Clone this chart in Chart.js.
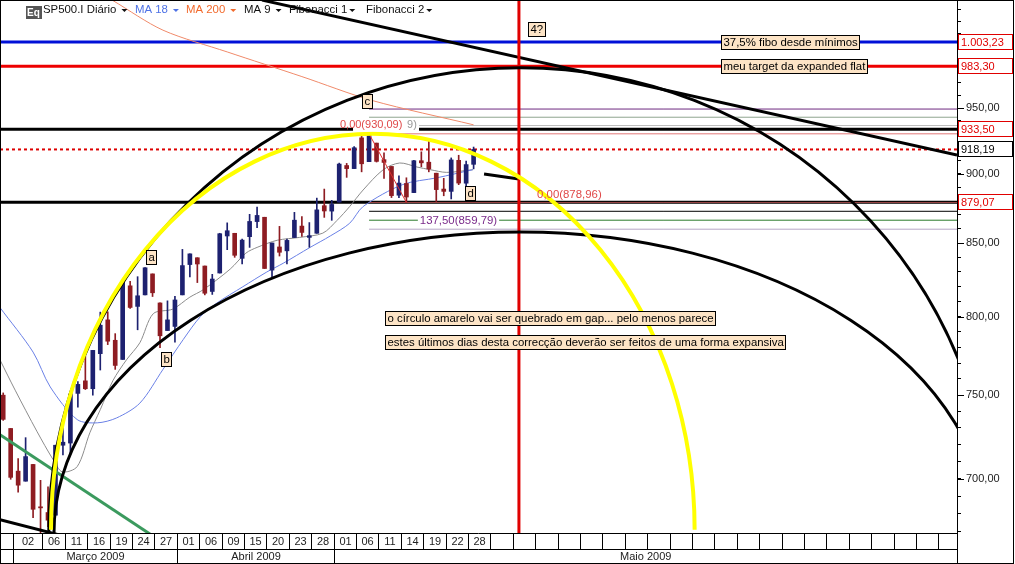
<!DOCTYPE html>
<html>
<head>
<meta charset="utf-8">
<script src="https://cdn.jsdelivr.net/npm/chart.js@4.4.1/dist/chart.umd.min.js"></script>
<style>
  html, body { margin: 0; padding: 0; background: #fff; }
  #wrap { width: 1015px; height: 564px; }
</style>
</head>
<body>
<div id="wrap"><canvas id="chart" width="1015" height="564"></canvas></div>
<script>
const FONT = '"Liberation Sans", Arial, sans-serif';

// velas diárias, índice 0 = 27/02/2009
const open  = [749.9,729.6,704.4,698.6,708.3,684.0,680.8,679.3,719.6,720.9,751.0,758.8,753.9,776.0,797.9,784.6,772.3,820.6,806.8,814.5,828.7,809.1,790.9,793.6,814.5,835.1,839.8,834.1,816.8,829.3,855.0,856.9,839.4,854.5,865.2,868.3,831.3,847.3,844.6,853.9,862.0,854.0,856.9,876.6,872.7,879.2,906.1,903.8,927.0,909.0,923.0,910.5,905.4,884.2,892.8,886.1,909.7,908.6,900.4,888.7,887.0,910.0,893.0,907.0];
const high  = [751.3,729.6,711.7,724.1,708.3,699.1,695.3,719.6,731.9,752.6,758.3,774.5,778.1,803.0,803.2,788.9,823.4,823.7,826.8,833.0,828.7,809.1,810.5,813.6,845.6,842.5,839.8,834.1,828.4,856.9,864.3,856.9,852.9,870.4,875.6,868.3,850.1,861.8,852.9,871.8,868.8,864.5,882.1,888.7,880.5,907.9,907.7,920.3,929.6,930.1,923.0,915.6,905.4,898.4,897.0,910.0,916.4,924.6,900.4,896.6,911.8,913.8,909.5,920.0];
const low   = [734.5,699.7,692.3,698.6,677.9,666.8,672.9,679.3,713.9,714.8,742.5,753.4,749.9,765.6,781.8,766.0,772.3,805.5,791.4,814.5,813.4,779.8,790.9,783.3,814.5,826.7,822.8,814.5,814.8,829.3,845.4,840.1,835.6,847.0,860.9,832.4,826.8,841.0,835.6,853.9,854.7,847.1,856.9,868.2,866.1,879.2,897.3,903.8,901.4,909.0,908.7,896.5,882.5,882.5,879.0,886.1,905.2,901.4,879.6,883.8,881.5,891.9,887.6,903.6];
const close = [735.1,700.8,696.3,712.9,682.6,683.4,676.5,719.6,721.4,750.7,756.6,753.9,778.1,794.4,784.0,768.5,822.9,806.1,813.9,832.9,815.9,787.5,797.9,811.1,834.4,842.5,835.5,815.6,825.2,856.6,858.7,841.5,852.1,865.3,869.6,832.4,850.1,843.6,851.9,866.2,857.5,855.2,873.6,872.8,877.5,907.2,903.8,919.5,907.4,929.2,909.2,908.4,883.9,893.1,882.9,909.7,908.1,903.5,888.3,887.0,910.3,893.1,906.8,918.19];

// médias móveis: [índice, valor]
const ma9  = [[-0.43,772],[1.6,753],[4.5,728],[6.7,711],[7.9,704],[9.9,707],[11.6,727],[13.0,741],[14.7,759],[16.5,772],[18.3,783],[20.1,802],[22.7,805],[25.0,813],[26.8,818],[30.4,832],[32.5,843],[34.0,847],[36.7,852],[39.7,854],[42.8,857],[44.7,866],[46.4,876],[48.2,888],[50.9,903],[53.1,908],[55.4,905],[57.2,903],[59.4,901],[62.9,903]];
const ma18 = [[-0.43,806],[4.0,777],[6.3,755],[9.9,735],[12.6,733],[15.2,736],[18.3,745],[21.4,766],[24.1,785],[26.4,800],[28.6,809],[32.1,820],[35.3,830],[37.5,836],[41.1,847],[43.8,855],[46.4,864],[48.2,876],[53.5,892],[58.1,897],[62.9,903]];
const ma200 = [[14.7,1038],[21.4,1013],[30,995],[40,975],[49.4,956],[63,937]];

// níveis horizontais
const blueLevel = 1003.23;
const redLevel = 983.30;
const blackLevels = [933.50, 879.07];
const lastPrice = 918.19;
const fib1 = [930.09, 936.48, 942.87, 949.26];
const fib2 = [878.96, 872.57, 866.18, 859.79];
const fibStart = 49;
const fibSwing = [[49, 930.09], [54, 878.96]];

// linhas de tendência: [índice, valor] -> [índice, valor]
const trendTop   = [[34.66, 1038.4], [127.74, 914.0]];
const trendShort = [[64.4, 899.8], [69.07, 896.1]];
const trendGreen = [[-0.43, 725.9], [21.8, 663.0]];
const trendLow   = [[-0.43, 676.8], [8.95, 666.8]];
const markerIdx = 69.07;

// arcos: [índice centro, valor centro, raio em índices, valor do topo]
const yellowArc = [49.5, 671.2, 43.1, 930.09];
const outerArc  = [69.3, 669.4, 63.2, 982.2];
const innerArc  = [69.3, 669.4, 62.5, 857.8];

// eixo das datas
const dayTicks  = [1,5,8,11,14,17,20,23,26,29,32,35,38,41,44,47,50,53,56,59,62];
const dayLabels = ['02','06','11','16','19','24','27','01','06','09','15','20','23','28','01','06','11','14','19','22','28'];
const futureTicks = [65,68,71,74,77,80,83,86,89,92,95,98,101,104,107,110,113,116,119,122,125];
const monthLabels = ['Março 2009', 'Abril 2009', 'Maio 2009'];
const monthStarts = [1, 23, 44];
const yMajor = [700, 750, 800, 850, 900, 950];

const xMin = -0.43, xMax = 127.74, yMin = 669.4, yMax = 1038.5;
const UP = '#1d2170', DOWN = '#8e1c22';

const candleColor = c => close[c.dataIndex] >= open[c.dataIndex] ? UP : DOWN;
const pts = arr => arr.map(p => ({ x: p[0], y: p[1] }));

function hline(v, from, color, width, dash) {
  return { type: 'line', data: [{ x: from, y: v }, { x: xMax, y: v }], borderColor: color,
    borderWidth: width, borderDash: dash || [], pointRadius: 0, order: 8 };
}
function seg(p, color, width, order) {
  return { type: 'line', data: pts(p), borderColor: color, borderWidth: width, pointRadius: 0, order: order };
}

const fib1Colors = ['#e27878', '#bdbdbd', '#8fa58f', '#6e2a80'];
const fib2Colors = ['#a04848', '#000000', '#2a7a2a', '#b6a6c6'];

const datasets = [];
fib1.forEach((v, i) => datasets.push(hline(v, fibStart, fib1Colors[i], 1)));
fib2.forEach((v, i) => datasets.push(hline(v, fibStart, fib2Colors[i], 1)));
datasets.push(hline(blueLevel, xMin, '#0010d8', 3));
datasets.push(hline(redLevel, xMin, '#ee0000', 3));
blackLevels.forEach(v => datasets.push(hline(v, xMin, '#000', 3)));
datasets.push(hline(lastPrice, xMin, '#dd0000', 2, [3, 3]));

datasets.push({ type: 'line', data: pts(ma200), borderColor: '#f08a6a', borderWidth: 1, pointRadius: 0, tension: 0.3, order: 7 });
datasets.push({ type: 'line', data: pts(ma18), borderColor: '#6a80e6', borderWidth: 1, pointRadius: 0, tension: 0.3, order: 7 });
datasets.push({ type: 'line', data: pts(ma9), borderColor: '#8c8c8c', borderWidth: 1, pointRadius: 0, tension: 0.3, order: 7 });

datasets.push({ type: 'bar', data: open.map((o, i) => ({ x: i, y: [low[i], high[i]] })),
  backgroundColor: candleColor, barThickness: 1, grouped: false, order: 5 });
datasets.push({ type: 'bar', data: open.map((o, i) => ({ x: i, y: [o, close[i]] })),
  backgroundColor: candleColor, barThickness: 4, minBarLength: 1, grouped: false, order: 4 });

datasets.push(seg(fibSwing, '#e03030', 1, 3));
datasets.push(seg(trendTop, '#000', 3, 2));
datasets.push(seg(trendShort, '#000', 3, 2));
datasets.push(seg(trendGreen, '#3b9a5e', 3, 2));
datasets.push(seg(trendLow, '#000', 3, 2));
datasets.push(seg([[markerIdx, yMin], [markerIdx, yMax]], '#e00000', 3, 1));

function fmt(v) {
  const s = v.toFixed(2).split('.');
  return s[0].replace(/\B(?=(\d{3})+(?!\d))/g, '.') + ',' + s[1];
}

function drawArc(chart, e, color, width) {
  const ctx = chart.ctx, a = chart.chartArea, xs = chart.scales.x, ys = chart.scales.y;
  const cx = xs.getPixelForValue(e[0]), cy = ys.getPixelForValue(e[1]);
  const rx = xs.getPixelForValue(e[0] + e[2]) - cx;
  const ry = cy - ys.getPixelForValue(e[3]);
  ctx.save();
  ctx.beginPath();
  ctx.rect(a.left, a.top, a.right - a.left, a.bottom - a.top);
  ctx.clip();
  ctx.beginPath();
  ctx.ellipse(cx, cy, rx, ry, 0, Math.PI, 2 * Math.PI);
  ctx.strokeStyle = color;
  ctx.lineWidth = width;
  ctx.stroke();
  ctx.restore();
}

const NOTE_FONT = '11.4px ' + FONT;
function noteBox(ctx, text, x, yc) {
  ctx.font = NOTE_FONT;
  const w = Math.round(ctx.measureText(text).width) + 4;
  const x0 = Math.round(x) + 0.5, y0 = Math.round(yc - 7) + 0.5;
  ctx.fillStyle = '#fde4c6';
  ctx.fillRect(x0, y0, w, 14);
  ctx.strokeStyle = '#000';
  ctx.lineWidth = 1;
  ctx.strokeRect(x0, y0, w, 14);
  ctx.fillStyle = '#000';
  ctx.textBaseline = 'middle';
  ctx.textAlign = 'left';
  ctx.fillText(text, x0 + 2, y0 + 7.5);
}

const notes = [
  ['37,5% fibo desde mínimos', 96.1, 1003.23],
  ['meu target da expanded flat', 96.1, 983.3],
  ['4?', 70.3, 1013.9],
  ['c', 48.05, 955.9],
  ['a', 19.1, 840.4],
  ['b', 21.1, 772.7],
  ['d', 61.8, 885.9],
  ['o círculo amarelo vai ser quebrado em gap... pelo menos parece', 51.1, 799.2],
  ['estes últimos dias desta correcção deverão ser feitos de uma forma expansiva', 51.1, 783.3]
];
const priceTags = [[blueLevel, '#e00000'], [redLevel, '#e00000'], [blackLevels[0], '#e00000'], [lastPrice, '#000'], [blackLevels[1], '#e00000']];

const overlay = {
  id: 'overlay',
  afterDatasetsDraw(chart) {
    const ctx = chart.ctx, xs = chart.scales.x, ys = chart.scales.y;
    drawArc(chart, outerArc, '#000', 3);
    drawArc(chart, innerArc, '#000', 3);
    drawArc(chart, yellowArc, '#ffff00', 4);

    ctx.save();
    ctx.font = '11px ' + FONT;
    ctx.textBaseline = 'middle';
    // rótulos das fibonacci
    let x = xs.getPixelForValue(46.85), y = ys.getPixelForValue(936.6);
    ctx.fillStyle = '#fff';
    ctx.fillRect(x, y - 6, 66, 12);
    ctx.fillStyle = '#999';
    ctx.fillText('9)', x + 54, y);
    ctx.fillStyle = '#e04848';
    ctx.fillText('0,00(930,09)', xs.getPixelForValue(45.1), y);
    ctx.font = NOTE_FONT;
    ctx.fillText('0,00(878,96)', xs.getPixelForValue(71.5), ys.getPixelForValue(884.8));
    x = xs.getPixelForValue(55.8); y = ys.getPixelForValue(866.0);
    const w = ctx.measureText('137,50(859,79)').width;
    ctx.fillStyle = '#fff';
    ctx.fillRect(x - 2, y - 6, w + 4, 12);
    ctx.fillStyle = '#7a2a8a';
    ctx.fillText('137,50(859,79)', x, y);
    ctx.restore();

    notes.forEach(n => noteBox(ctx, n[0], xs.getPixelForValue(n[1]), ys.getPixelForValue(n[2])));
  },
  afterDraw(chart) {
    const ctx = chart.ctx, xs = chart.scales.x, ys = chart.scales.y, a = chart.chartArea;
    const b = a.bottom, R = a.right;
    ctx.save();
    ctx.strokeStyle = '#000';
    ctx.lineWidth = 1;
    ctx.beginPath();
    ctx.moveTo(0, b + 0.5); ctx.lineTo(R, b + 0.5);
    ctx.moveTo(0, b + 16.5); ctx.lineTo(R, b + 16.5);
    ctx.moveTo(0, 563.5); ctx.lineTo(1014, 563.5);
    ctx.moveTo(0.5, 0); ctx.lineTo(0.5, 564);
    ctx.moveTo(1013.5, 0); ctx.lineTo(1013.5, 564);
    ctx.moveTo(0, 0.5); ctx.lineTo(1014, 0.5);
    ctx.moveTo(R + 0.5, 0); ctx.lineTo(R + 0.5, 564);
    const cells = dayTicks.concat(futureTicks);
    const bx = cells.map(t => Math.round(xs.getPixelForValue(t + 0.25)) + 0.5);
    bx.forEach(x => { ctx.moveTo(x, b); ctx.lineTo(x, b + 16); });
    const mx = monthStarts.map(t => Math.round(xs.getPixelForValue(t + 0.25)) + 0.5);
    mx.forEach(x => { ctx.moveTo(x, b + 16); ctx.lineTo(x, 564); });
    // marcas maiores no eixo dos preços
    yMajor.forEach(v => { const y = Math.round(ys.getPixelForValue(v)) + 0.5; ctx.moveTo(R, y); ctx.lineTo(R + 7, y); });
    ctx.stroke();

    ctx.font = '11px ' + FONT;
    ctx.fillStyle = '#222';
    ctx.textBaseline = 'middle';
    ctx.textAlign = 'center';
    dayLabels.forEach((d, i) => ctx.fillText(d, (bx[i] + bx[i + 1]) / 2, b + 9));
    mx.forEach((x, i) => {
      const x2 = i + 1 < mx.length ? mx[i + 1] : R;
      ctx.fillText(monthLabels[i], (x + x2) / 2, b + 24);
    });

    // etiquetas de preço no eixo
    ctx.textAlign = 'left';
    priceTags.forEach(t => {
      const y = Math.round(ys.getPixelForValue(t[0]));
      ctx.fillStyle = '#fff';
      ctx.fillRect(R + 1.5, y - 7.5, 54, 15);
      ctx.strokeStyle = t[1];
      ctx.strokeRect(R + 1.5, y - 7.5, 54, 15);
      ctx.fillStyle = t[1];
      ctx.fillText(fmt(t[0]), R + 4, y + 0.5);
    });

    // legenda
    ctx.fillStyle = '#555';
    ctx.fillRect(26, 6, 16, 13);
    ctx.fillStyle = '#fff';
    ctx.font = 'bold 10px ' + FONT;
    ctx.fillText('Eq', 27, 13);
    ctx.font = '11.4px ' + FONT;
    const leg = [['SP500.I Diário', '#111'], ['MA 18', '#4e72e6'], ['MA 200', '#f26a2c'], ['MA 9', '#111'], ['Fibonacci 1', '#111'], ['Fibonacci 2', '#111']];
    const legX = [43, 135, 186, 244, 289, 366];
    leg.forEach((l, i) => {
      ctx.fillStyle = l[1];
      ctx.fillText(l[0], legX[i], 10);
      const tw = ctx.measureText(l[0]).width;
      const cx = legX[i] + tw + (i >= 4 ? 2 : 5);
      ctx.beginPath();
      ctx.moveTo(cx, 9); ctx.lineTo(cx + 6, 9); ctx.lineTo(cx + 3, 12); ctx.closePath();
      ctx.fill();
    });
    ctx.restore();
  }
};

new Chart(document.getElementById('chart'), {
  type: 'line',
  data: { datasets: datasets },
  options: {
    responsive: false,
    animation: false,
    devicePixelRatio: 1,
    layout: { autoPadding: false, padding: { top: 0, left: 0, right: 0, bottom: 31 } },
    plugins: { legend: { display: false }, tooltip: { enabled: false } },
    scales: {
      x: { type: 'linear', min: xMin, max: xMax, display: false, offset: false },
      y: {
        type: 'logarithmic', position: 'right', min: yMin, max: yMax,
        afterFit: s => { s.width = 58; s.paddingTop = 0; s.paddingBottom = 0; },
        afterBuildTicks: s => {
          const t = [];
          for (let v = 670; v <= 1030; v += 10) t.push({ value: v });
          s.ticks = t;
        },
        ticks: {
          autoSkip: false, padding: 5, color: '#222', font: { family: FONT, size: 11 },
          callback: v => yMajor.includes(v) ? fmt(v) : ''
        },
        grid: { drawOnChartArea: false, drawTicks: true, tickLength: 4, color: '#000' },
        border: { display: true, color: '#000' }
      }
    }
  },
  plugins: [overlay]
});
</script>
</body>
</html>
